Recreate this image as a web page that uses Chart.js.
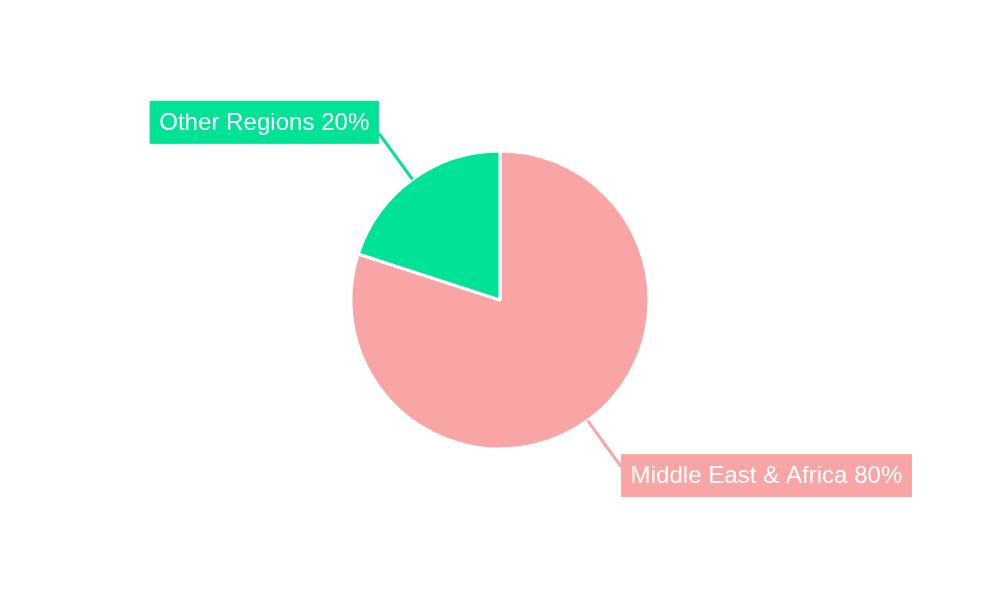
<!DOCTYPE html>
<html lang="en">
<head>
    <meta charset="UTF-8">
    <title>Regional Share</title>
    <script src="https://cdn.jsdelivr.net/npm/chart.js"></script>
    <style>
        html, body {
            margin: 0;
            padding: 0;
            background: #fff;
        }
        .chartContainer {
            width: 1000px;
            height: 600px;
        }
    </style>
</head>
<body>
    <div class="chartContainer">
        <canvas id="shareChart" width="1000" height="600"></canvas>
    </div>

    <script>
        const regions = ['Middle East & Africa', 'Other Regions'];
        const shares = [80, 20];
        const sliceColors = ['#F9A4A5', '#00E396'];

        // draws the boxed labels with a short leader line per slice
        const calloutLabels = {
            id: 'calloutLabels',
            afterDatasetsDraw(chart) {
                const ctx = chart.ctx;
                const meta = chart.getDatasetMeta(0);
                ctx.save();
                ctx.font = '24.1px "Liberation Sans", Arial, sans-serif';
                ctx.textBaseline = 'middle';
                meta.data.forEach((arc, i) => {
                    const p = arc.getProps(['x', 'y', 'startAngle', 'endAngle', 'outerRadius'], true);
                    const mid = (p.startAngle + p.endAngle) / 2;
                    const cos = Math.cos(mid), sin = Math.sin(mid);
                    const r0 = p.outerRadius;
                    const r1 = 206;
                    const sx = p.x + cos * r0, sy = p.y + sin * r0;
                    const ex = p.x + cos * r1, ey = p.y + sin * r1;

                    ctx.strokeStyle = sliceColors[i];
                    ctx.lineWidth = 3;
                    ctx.beginPath();
                    ctx.moveTo(sx, sy);
                    ctx.lineTo(ex, ey);
                    ctx.stroke();

                    const text = regions[i] + ' ' + shares[i] + '%';
                    const w = ctx.measureText(text).width + 19;
                    const h = 43;
                    const right = cos >= 0;
                    const bx = right ? ex : ex - w;
                    const cy = sin >= 0 ? ey + 9 : ey - 11;
                    ctx.fillStyle = sliceColors[i];
                    ctx.fillRect(bx, cy - h / 2, w, h);
                    ctx.fillStyle = '#fff';
                    ctx.textAlign = 'center';
                    ctx.fillText(text, bx + w / 2, cy + 1);
                });
                ctx.restore();
            }
        };

        const ctx = document.getElementById('shareChart').getContext('2d');
        new Chart(ctx, {
            type: 'pie',
            data: {
                labels: regions,
                datasets: [{
                    data: shares,
                    backgroundColor: sliceColors,
                    borderColor: '#ffffff',
                    borderWidth: 3
                }]
            },
            options: {
                responsive: false,
                animation: false,
                radius: 149,
                plugins: {
                    legend: { display: false },
                    tooltip: { enabled: false }
                }
            },
            plugins: [calloutLabels]
        });
    </script>
</body>
</html>
